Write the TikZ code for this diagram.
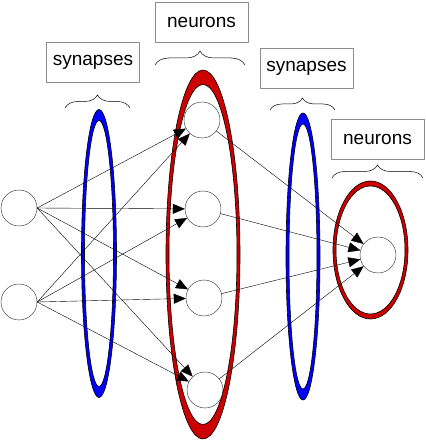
\documentclass[tikz,border=0pt]{standalone}
\usepackage{fontspec}
\setmainfont{Liberation Sans}
\usetikzlibrary{arrows.meta,decorations.pathreplacing}
\definecolor{ringred}{RGB}{204,0,0}
\begin{document}
\begin{tikzpicture}[x=1pt, y=1pt, line cap=round, line join=round, >={Triangle[length=12pt,width=10pt]}]
	\tikzset{neuron/.style={circle, draw=black!85, line width=0.4pt, minimum size=36pt, inner sep=0pt},
		tag/.style={draw=black!45, line width=0.8pt, fill=white, minimum width=93pt, minimum height=40pt, inner sep=0pt, font=\fontsize{19}{22}\selectfont},
		ring/.style={draw=black, line width=0.6pt, even odd rule},
		curly/.style={decorate, decoration={brace, amplitude=#1}, line width=0.5pt}}
	\useasboundingbox (0,0) rectangle (426,440);
	% rings
	\path[ring, fill=blue] (99,186.5) ellipse [x radius=17.5pt, y radius=144pt] (99,186.5) ellipse [x radius=14.5pt, y radius=133pt];
	\path[ring, fill=blue] (303,183.5) ellipse [x radius=17pt, y radius=143.5pt] (303,183.5) ellipse [x radius=14pt, y radius=132.5pt];
	\path[ring, fill=ringred] (203,185.5) ellipse [x radius=37pt, y radius=184.5pt] (203,185.5) ellipse [x radius=34pt, y radius=170pt];
	\path[ring, fill=ringred] (370.5,190) ellipse [x radius=37.5pt, y radius=69pt] (370.5,190) ellipse [x radius=34.5pt, y radius=64pt];
	% neurons
	\node[neuron] (in1) at (19,232) {};
	\node[neuron] (in2) at (19,138) {};
	\node[neuron] (h1) at (202,320) {};
	\node[neuron] (h2) at (203,231) {};
	\node[neuron] (h3) at (204,142) {};
	\node[neuron] (h4) at (205,50) {};
	\node[neuron] (out) at (378,185) {};
	% connections
	\foreach \i in {1,2}
		\foreach \h in {1,...,4}
			\draw[->, line width=0.4pt] (in\i.east) -- (h\h);
	\foreach \h in {1,...,4}
		\draw[->, line width=0.4pt] (h\h) -- (out);
	% labels
	\node[tag] (syn1) at (93,377.5) {synapses};
	\node[tag] (neu1) at (201.5,418) {neurons};
	\node[tag] (syn2) at (306.5,372) {synapses};
	\node[tag] (neu2) at (377.5,301) {neurons};
	\draw[curly=13pt] (65,332) -- (130,332);
	\draw[curly=14pt] (155,375) -- (245,375);
	\draw[curly=12pt] (270,330) -- (335,330);
	\draw[curly=13pt] (332,262) -- (423,262);
\end{tikzpicture}
\end{document}
